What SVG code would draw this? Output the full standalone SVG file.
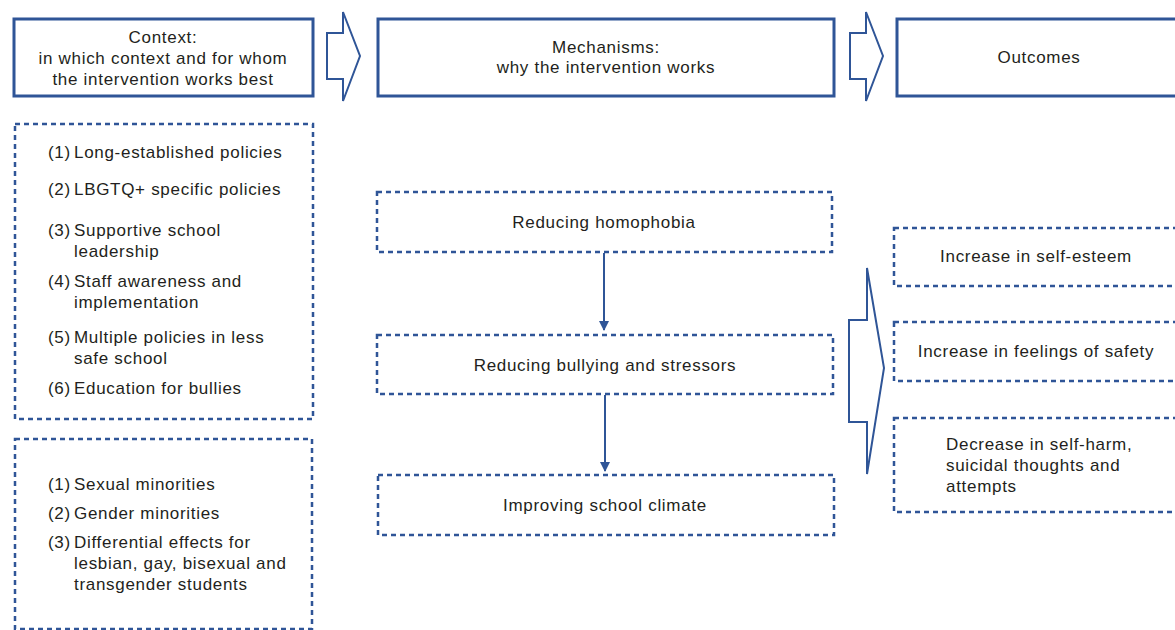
<svg xmlns="http://www.w3.org/2000/svg" width="1175" height="630" viewBox="0 0 1175 630">
<defs>
<style>
.t{font-family:"Liberation Sans",Arial,sans-serif;font-size:17px;fill:#231f20;letter-spacing:0.7px}
.c{text-anchor:middle}
.hdr{fill:#fff;stroke:#2f5597;stroke-width:3}
.dash{fill:#fff;stroke:#2f5597;stroke-width:2.5;stroke-dasharray:5 4}
.blk{fill:#fff;stroke:#2f5597;stroke-width:2;stroke-linejoin:miter}
.con{stroke:#2f5597;stroke-width:2;fill:none}
</style>
<marker id="ah" viewBox="0 0 10 10" refX="9" refY="5" markerWidth="5" markerHeight="5" orient="auto" markerUnits="strokeWidth">
<path d="M0,0 L10,5 L0,10 z" fill="#2f5597"/>
</marker>
</defs>
<rect width="1175" height="630" fill="#fff"/>

<g id="context-header">
<rect class="hdr" x="14" y="19" width="299" height="77"/>
<text class="t c" x="163" y="43">Context:</text>
<text class="t c" x="163" y="64">in which context and for whom</text>
<text class="t c" x="163" y="85">the intervention works best</text>
</g>

<g id="mechanisms-header">
<rect class="hdr" x="378" y="19" width="456" height="77"/>
<text class="t c" x="606" y="53">Mechanisms:</text>
<text class="t c" x="606" y="73">why the intervention works</text>
</g>

<g id="outcomes-header">
<rect class="hdr" x="897" y="19" width="290" height="77"/>
<text class="t c" x="1039" y="63">Outcomes</text>
</g>

<g id="context-policies">
<rect class="dash" x="15" y="124" width="298" height="295"/>
<text class="t" x="48" y="158">(1)</text><text class="t" x="74" y="158">Long-established policies</text>
<text class="t" x="48" y="195">(2)</text><text class="t" x="74" y="195">LBGTQ+ specific policies</text>
<text class="t" x="48" y="236">(3)</text><text class="t" x="74" y="236">Supportive school</text>
<text class="t" x="74" y="257">leadership</text>
<text class="t" x="48" y="287">(4)</text><text class="t" x="74" y="287">Staff awareness and</text>
<text class="t" x="74" y="308">implementation</text>
<text class="t" x="48" y="343">(5)</text><text class="t" x="74" y="343">Multiple policies in less</text>
<text class="t" x="74" y="364">safe school</text>
<text class="t" x="48" y="394">(6)</text><text class="t" x="74" y="394">Education for bullies</text>
</g>

<g id="context-groups">
<rect class="dash" x="15" y="439" width="297" height="190"/>
<text class="t" x="48" y="490">(1)</text><text class="t" x="74" y="490">Sexual minorities</text>
<text class="t" x="48" y="519">(2)</text><text class="t" x="74" y="519">Gender minorities</text>
<text class="t" x="48" y="548">(3)</text><text class="t" x="74" y="548">Differential effects for</text>
<text class="t" x="74" y="569">lesbian, gay, bisexual and</text>
<text class="t" x="74" y="590">transgender students</text>
</g>

<g id="mech-homophobia">
<rect class="dash" x="377" y="192" width="455" height="60"/>
<text class="t c" x="604" y="228">Reducing homophobia</text>
</g>

<g id="mech-bullying">
<rect class="dash" x="377" y="335" width="456" height="59"/>
<text class="t c" x="605" y="371">Reducing bullying and stressors</text>
</g>

<g id="mech-climate">
<rect class="dash" x="378" y="475" width="456" height="60"/>
<text class="t c" x="605" y="511">Improving school climate</text>
</g>

<g id="out-selfesteem">
<rect class="dash" x="894" y="228" width="290" height="58"/>
<text class="t c" x="1036" y="262">Increase in self-esteem</text>
</g>

<g id="out-safety">
<rect class="dash" x="894" y="322" width="290" height="59"/>
<text class="t c" x="1036" y="357">Increase in feelings of safety</text>
</g>

<g id="out-selfharm">
<rect class="dash" x="894" y="418" width="290" height="94"/>
<text class="t" x="946" y="450">Decrease in self-harm,</text>
<text class="t" x="946" y="471">suicidal thoughts and</text>
<text class="t" x="946" y="492">attempts</text>
</g>

<g id="connectors">
<path class="blk" d="M327,33 H343 V12 L360,56 L343,101 V79 H327 Z"/>
<path class="blk" d="M850,33 H866 V12 L883,56 L866,101 V79 H850 Z"/>
<path class="blk" d="M849,320 H867 V268 L884,368 L867,474 V422 H849 Z"/>
<line class="con" x1="604" y1="253" x2="604" y2="330" marker-end="url(#ah)"/>
<line class="con" x1="605" y1="395" x2="605" y2="471" marker-end="url(#ah)"/>
</g>
</svg>
